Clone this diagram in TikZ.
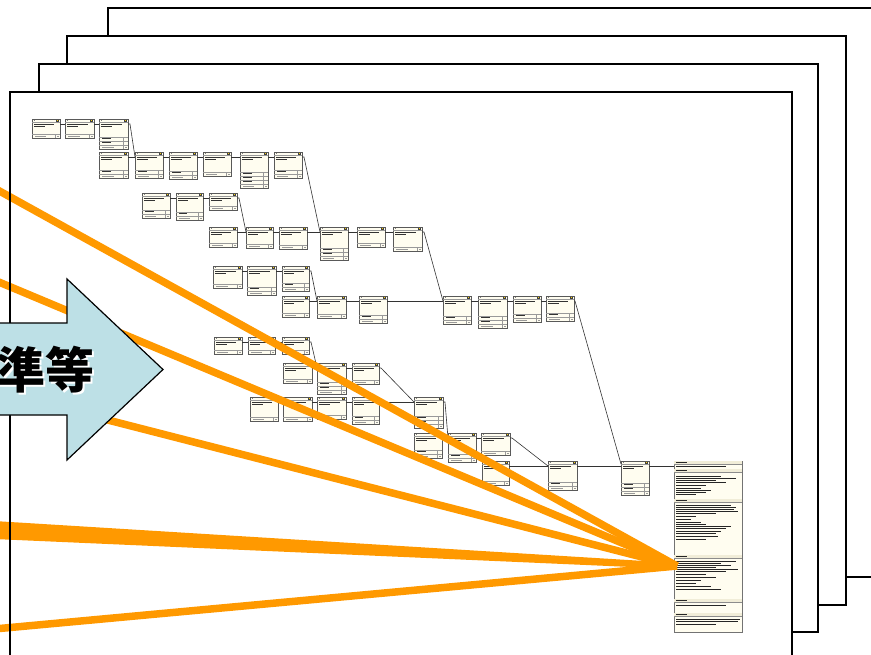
\documentclass[tikz,border=0pt]{standalone}
\usepackage{fontspec}
\newfontfamily\cjk{Noto Sans CJK JP}
\definecolor{cream}{HTML}{FFFDF0}
\definecolor{beige}{HTML}{F1EDD8}
\definecolor{orng}{HTML}{FF9900}
\definecolor{arrowblue}{HTML}{BDE0E6}
\tikzset{
  page/.style={draw=black, fill=white, line width=1.6pt},
  cardbox/.style={draw=black!65, fill=cream, line width=0.6pt, inner sep=0pt, outer sep=0pt},
  docbox/.style={draw=black!55, fill=cream, line width=0.7pt, inner sep=0pt, outer sep=0pt},
  conn/.style={draw=black!80, line width=0.6pt},
  orangeline/.style={draw=orng, line width=7.5pt},
  arrowst/.style={draw=black, fill=arrowblue, line width=1.2pt, line join=miter},
  bigtext/.style={font=\cjk\bfseries\fontsize{49}{49}\selectfont, inner sep=0pt}
}
\newcommand\card[5]{%
  \node[cardbox, minimum width=#4pt, minimum height=#5pt, anchor=north west] (#1) at (#2,#3) {};
  \begin{scope}[shift={(#2,#3)}]
    \draw[black!40, line width=0.3pt] (0,3) -- (#4,3);
    \fill[black!75] (#4-4.2,0.7) rectangle (#4-1,2.6);
    \fill[yellow!70!orange] (#4-3.4,1.2) rectangle (#4-2,2.2);
    \fill[black!50] (1.5,0.9) rectangle (3,2.1);
    \fill[black!80] (2,4.8) rectangle (#4*0.8,5.9);
    \fill[black!80] (2,6.8) rectangle (#4*0.45,7.9);
    \draw[black!40, line width=0.3pt] (0,#5-4) -- (#4,#5-4);
    \draw[black!40, line width=0.3pt] (#4-5,#5-4) -- (#4-5,#5);
    \fill[black!40] (3,#5-2.5) rectangle (#4*0.5,#5-1.8);
    \fill[black!40] (#4-3.5,#5-2.5) rectangle (#4-1.5,#5-1.8);
    \pgfmathtruncatemacro\nr{max(0,floor((#5-20)/5))}%
    \ifnum\nr>0
      \foreach \r in {1,...,\nr}{
        \draw[black!40, line width=0.3pt] (0,#5-4-4*\r) -- (#4,#5-4-4*\r);
        \draw[black!40, line width=0.3pt] (#4-5,#5-4-4*\r) -- (#4-5,#5-4*\r);
        \fill[black!80] (3,#5-2.8-4*\r) rectangle (#4*0.42,#5-1.7-4*\r);
      }
    \fi
  \end{scope}}
\newcommand\lk[2]{\draw[conn] ([yshift=-5pt]#1.north east) -- ([yshift=-5pt]#2.north west);}
\newcommand\lkd[2]{\draw[conn] ([yshift=-5pt]#1.north east) -- ++(2,0) -- ([yshift=-5pt]#2.north west);}
\begin{document}
\begin{tikzpicture}[x=1pt,y=-1pt]
\useasboundingbox (0,0) rectangle (871,654);
\clip (0,0) rectangle (871,654);
% stacked pages
\draw[page] (108,8) rectangle (885,577);
\draw[page] (67,36) rectangle (846,605);
\draw[page] (39,64) rectangle (818,632);
\fill[white] (10,92) rectangle (792,670);
% cards
\card{A}{32}{119}{28}{19}
\card{B}{65}{119}{29}{19}
\card{C}{99}{119}{29}{30}
\card{D}{99}{152}{29}{26}
\card{E}{135}{152}{28}{26}
\card{F}{169}{152}{28}{27}
\card{G}{203}{152}{28}{24}
\card{H}{240}{152}{28}{36}
\card{I}{274}{152}{28}{26}
\card{J}{142}{193}{28}{25}
\card{K}{176}{193}{27}{27}
\card{L}{209}{193}{28}{17}
\card{M}{209}{227}{28}{20}
\card{N}{246}{227}{27}{21}
\card{O}{279}{227}{28}{22}
\card{P}{320}{227}{28}{33}
\card{Q}{357}{227}{28}{20}
\card{R}{393}{227}{29}{24}
\card{S}{213}{266}{29}{22}
\card{T}{247}{266}{29}{29}
\card{U}{282}{266}{27}{25}
\card{V}{282}{296}{27}{21}
\card{W}{317}{296}{29}{22}
\card{X}{359}{296}{28}{27}
\card{Y}{443}{296}{28}{28}
\card{Z}{478}{296}{29}{32}
\card{AA}{513}{296}{28}{26}
\card{AB}{546}{296}{28}{25}
\card{BA}{214}{337}{28}{17}
\card{BB}{248}{337}{27}{17}
\card{BC}{282}{337}{27}{17}
\card{BD}{283}{363}{29}{20}
\card{BE}{317}{363}{29}{31}
\card{BF}{352}{363}{27}{21}
\card{BG}{250}{397}{28}{24}
\card{BH}{283}{397}{29}{24}
\card{BI}{317}{397}{29}{22}
\card{BJ}{352}{397}{27}{27}
\card{BK}{414}{397}{29}{31}
\card{BL}{414}{433}{28}{25}
\card{BM}{448}{433}{28}{29}
\card{BN}{481}{433}{29}{22}
\card{BO}{482}{461}{27}{24}
\card{BP}{548}{461}{29}{29}
\card{BQ}{621}{461}{28}{34}
% document box
\node[docbox, minimum width=68pt, minimum height=171pt, anchor=north west] (doc) at (674,461) {};
\begin{scope}[shift={(674,461)}]
  \foreach \hy in {0,8,38,94,138,152}{
    \fill[beige] (0.4,\hy) rectangle (67.6,\hy+3.6);
    \draw[black!45, line width=0.3pt] (0,\hy+3.6) -- (68,\hy+3.6);
    \fill[black!85] (2,\hy+1.2) rectangle (13,\hy+2.4);
  }
  \fill[black!85] (2,5) rectangle (52,6.1);
  \foreach \yy/\ww in {15/45,17/60,19/40,21/50,24/30,27/25,29/35,31/30,33/20,
     44/55,46/60,48/58,50/62,52/40,55/20,58/15,61/25,63/30,65/55,67/50,70/45,72/40,75/42,78/30,
     100/60,102/45,104/55,106/40,108/62,110/50,113/30,116/40,119/25,122/20,125/35,128/45,
     144/50,158/64,160/62,163/40}{
    \fill[black!85] (2,\yy) rectangle (2+\ww,\yy+1.2);
  }
\end{scope}
% connectors
\lk{A}{B} \lk{B}{C} \lkd{C}{E}
\lk{D}{E} \lk{E}{F} \lk{F}{G} \lk{G}{H} \lk{H}{I} \lkd{I}{P}
\lk{J}{K} \lk{K}{L} \lkd{L}{N}
\lk{M}{N} \lk{N}{O} \lk{O}{P} \lk{P}{Q} \lk{Q}{R} \lkd{R}{Y}
\lk{S}{T} \lk{T}{U} \lkd{U}{W}
\lk{V}{W} \lk{W}{X} \lk{X}{Y} \lk{Y}{Z} \lk{Z}{AA} \lk{AA}{AB}
\draw[conn] ([yshift=-5pt]AB.north east) -- ++(1,0) -- ([yshift=-3pt]BQ.north west);
\lk{BA}{BB} \lk{BB}{BC} \lkd{BC}{BE}
\lk{BD}{BE} \lk{BE}{BF} \lkd{BF}{BK}
\lk{BG}{BH} \lk{BH}{BI} \lk{BI}{BJ} \lk{BJ}{BK}
\lkd{BK}{BM}
\lk{BL}{BM} \lk{BM}{BN} \lkd{BN}{BP}
\lk{BO}{BP} \lk{BP}{BQ} \lk{BQ}{doc}
% orange fan
\coordinate (conv) at (677,566);
\coordinate (o1) at (-6,188);
\coordinate (o2) at (-6,280);
\coordinate (o3) at (100,418);
\coordinate (o5) at (-6,629);
\draw[orangeline] (o1) -- (conv);
\draw[orangeline] (o2) -- (conv);
\draw[orangeline] (o3) -- (conv);
\draw[orangeline] (o5) -- (conv);
\fill[orng] (-6,521) -- (-6,539) -- (677,569) -- (677,563) -- cycle;
% front page border
\draw[page, fill=none] (10,92) rectangle (792,670);
% big arrow
\draw[arrowst] (-10,323) -- (67,323) -- (67,279) -- (163,369.5) -- (67,460) -- (67,415) -- (-10,415) -- cycle;
\node[bigtext, white] (txtshadow) at (47.5,371.5) {準等};
\node[bigtext, black] (txt) at (46,370) {準等};
\end{tikzpicture}
\end{document}
